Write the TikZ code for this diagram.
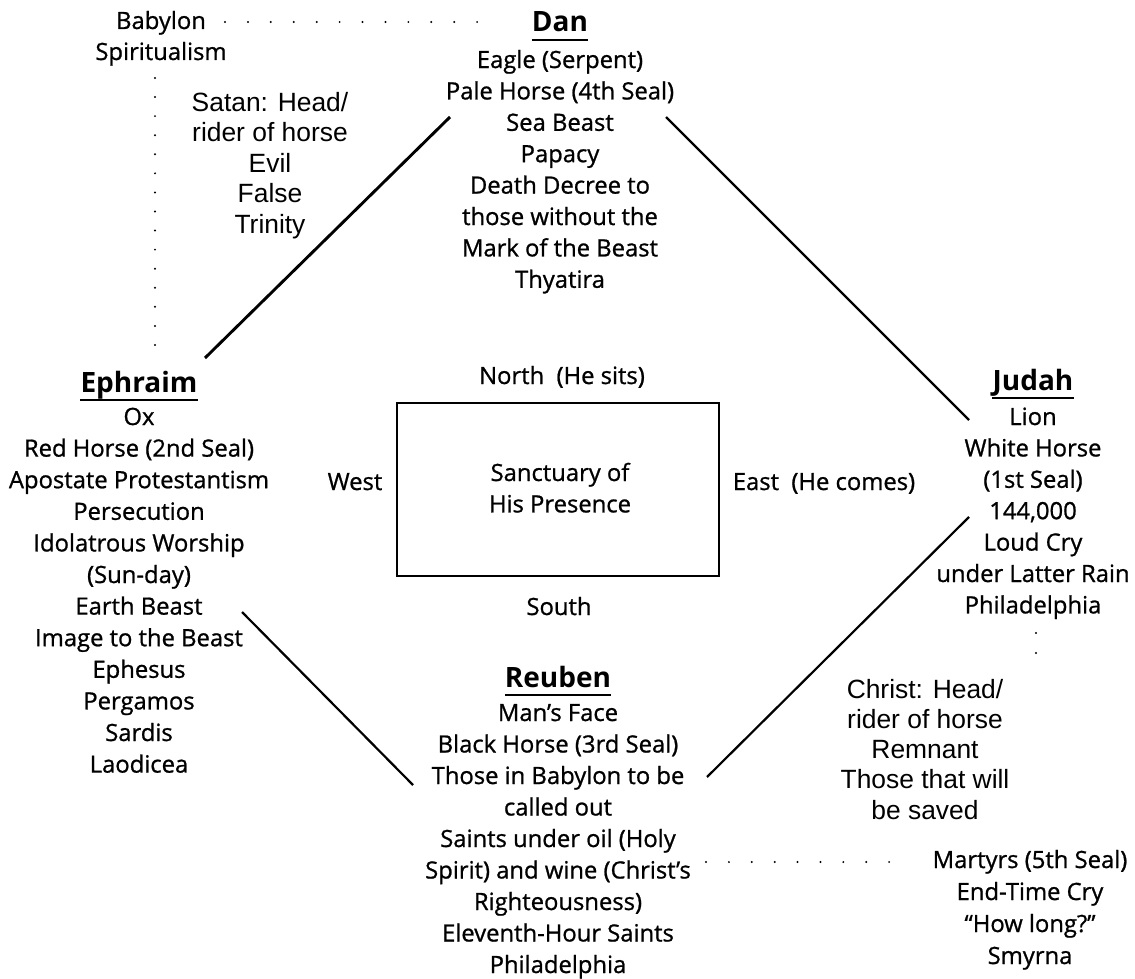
\documentclass[tikz,border=0pt]{standalone}
\usepackage{fontspec}
\setmainfont{Open Sans}[UprightFeatures={FakeBold=0.9}]
\newfontfamily\helvfont{Liberation Sans}
\begin{document}
\begin{tikzpicture}[x=1pt,y=-1pt,
  body/.style={font=\fontsize{23.8}{31.4}\selectfont, align=center, inner sep=0pt, anchor=base},
  ttl/.style={font=\fontsize{28}{30}\selectfont\bfseries, inner sep=0pt, anchor=base},
  helv/.style={font=\helvfont\fontsize{26.4}{30.5}\selectfont, align=center, inner sep=0pt, anchor=base},
  conn/.style={line width=2.2pt},
  uline/.style={line width=2.4pt},
  dotleader/.style={line width=2.2pt, line cap=round, dash pattern=on 0pt off #1}
]
\useasboundingbox (0,0) rectangle (1135,979);

% titles
\node[ttl] (dan) at (560,32) {Dan};
\node[ttl] (ephraim) at (139,392) {Ephraim};
\node[ttl] (judah) at (1033,390) {Judah};
\node[ttl] (reuben) at (558,687) {Reuben};
\foreach \t in {dan,ephraim,judah,reuben}
  \draw[uline] ([yshift=-8pt]\t.base west) -- ([yshift=-8pt]\t.base east);

% bodies (anchor base = baseline of last line)
\node[body] (danbody) at (560,{68+7*31.4}) {Eagle (Serpent)\\Pale Horse (4th Seal)\\Sea Beast\\Papacy\\Death Decree to\\those without the\\Mark of the Beast\\Thyatira};
\node[body,font=\fontsize{23.8}{31.6}\selectfont] (ephbody) at (139,{425+11*31.6}) {Ox\\Red Horse (2nd Seal)\\Apostate Protestantism\\Persecution\\Idolatrous Worship\\(Sun-day)\\Earth Beast\\Image to the Beast\\Ephesus\\Pergamos\\Sardis\\Laodicea};
\node[body] (judbody) at (1033,{425+6*31.4}) {Lion\\White Horse\\(1st Seal)\\144,000\\Loud Cry\\under Latter Rain\\Philadelphia};
\node[body,font=\fontsize{23.8}{31.5}\selectfont] (reubody) at (558,{721+8*31.5}) {Man’s Face\\Black Horse (3rd Seal)\\Those in Babylon to be\\called out\\Saints under oil (Holy\\Spirit) and wine (Christ’s\\Righteousness)\\Eleventh-Hour Saints\\Philadelphia};
\node[body,font=\fontsize{23.8}{32}\selectfont] (martyrs) at (1030,{868+3*32}) {Martyrs (5th Seal)\\End-Time Cry\\“How long?”\\Smyrna};
\node[body,font=\fontsize{23.8}{31}\selectfont] (babylon) at (161,{29+31}) {Babylon\\Spiritualism};

% helvetica notes
\node[helv] (satan) at (270,{111+4*30.5}) {Satan: Head/\\rider of horse\\Evil\\False\\Trinity};
\node[helv,font=\helvfont\fontsize{26.4}{30.3}\selectfont] (christ) at (925,{698+4*30.3}) {Christ: Head/\\rider of horse\\Remnant\\Those that will\\be saved};

% sanctuary
\draw[line width=2.5pt] (397,403) rectangle (719,576);
\node[body] (sanct) at (560,{481+31.4}) {Sanctuary of\\His Presence};
\node[body] (north) at (562,384) {North\ \ (He sits)};
\node[body] (south) at (559,615) {South};
\node[body] (west) at (355,490) {West};
\node[body] (east) at (824,490) {East\ \ (He comes)};

% connector end points
\coordinate (dl) at (450,117);
\coordinate (el) at (205,358);
\coordinate (dr) at (666,117);
\coordinate (jt) at (969,420);
\coordinate (eb) at (242,612);
\coordinate (rl) at (413,785);
\coordinate (rr) at (707,777);
\coordinate (jb) at (969,517);
\draw[conn,line width=2.9pt] (dl) -- (el);
\draw[conn] (dr) -- (jt);
\draw[conn] (eb) -- (rl);
\draw[conn] (rr) -- (jb);

% dotted leaders
\coordinate (b1) at (225,22);
\coordinate (b2) at (500,22);
\draw[dotleader=22.92pt] (b1) -- (b2);
\coordinate (s1) at (155,78);
\coordinate (s2) at (155,345);
\draw[dotleader=19.07pt] (s1) -- (s2);
\coordinate (j1) at (1036,633);
\coordinate (j2) at (1036,653);
\draw[dotleader=20pt] (j1) -- (j2);
\coordinate (r1) at (706,862);
\coordinate (r2) at (912,862);
\draw[dotleader=22.89pt] (r1) -- (r2);
\end{tikzpicture}
\end{document}
